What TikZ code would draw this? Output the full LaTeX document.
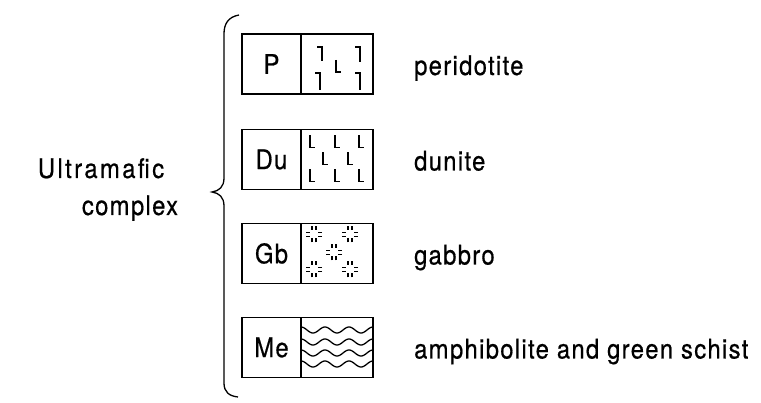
\documentclass[tikz,border=0pt]{standalone}
\usepackage{fontspec}
\setmainfont{TeX Gyre Heros}[FakeStretch=0.88, LetterSpace=5, FakeBold=0.6]
\begin{document}
\begin{tikzpicture}[x=1pt,y=-1pt,
  labbox/.style={draw, line width=1.6pt, minimum width=59pt, minimum height=60pt, inner sep=0pt, font=\fontsize{27}{30}\selectfont},
  patbox/.style={draw, line width=1.6pt, minimum width=72pt, minimum height=60pt, inner sep=0pt},
  txt/.style={font=\fontsize{27}{30}\selectfont, inner sep=0pt, anchor=base west},
  sidetxt/.style={font=\fontsize{27}{30}\selectfont, inner sep=0pt, anchor=base},
  sym/.style={line width=1.3pt},
  bracestyle/.style={line width=1.3pt}]
\useasboundingbox (0,0) rectangle (761,403);

% boxes
\node[labbox] (p)  at (271.5,64)    {P};
\node[patbox] (pp) at (337,64)      {};
\node[labbox] (du) at (271.5,159.5) {Du};
\node[patbox] (dp) at (337,159.5)   {};
\node[labbox] (gb) at (271.5,253.5) {Gb};
\node[patbox] (gp) at (337,253.5)   {};
\node[labbox] (me) at (271.5,347.5) {Me};
\node[patbox] (mp) at (337,347.5)   {};

% peridotite pattern
\begin{scope}[shift={(pp.center)}]
  \draw[sym] (-20,-17) -- (-15,-17) -- (-15,-3);
  \draw[sym] (18,-17) -- (23,-17) -- (23,-2);
  \draw[sym] (-22,9) -- (-17,9) -- (-17,26);
  \draw[sym] (18,9) -- (23,9) -- (23,26);
  \draw[sym] (-1,-4) -- (-1,8) -- (4,8);
\end{scope}

% dunite pattern
\begin{scope}[shift={(dp.center)}]
  \foreach \a/\b in {-27/-24, -2/-24, 22/-24, -14/-7, 11/-7, -27/10, -2/10, 22/10}
    \draw[sym] (\a,\b) -- (\a,\b+12) -- (\a+5,\b+12);
\end{scope}

% gabbro pattern
\begin{scope}[shift={(gp.center)}]
  \foreach \a/\b in {-23/-19, 13/-19, -3/-1, -23/16, 13/16}{
    \begin{scope}[shift={(\a,\b)}]
      \draw[sym] (-2,-8) -- (-2,-4) (2,-8) -- (2,-4);
      \draw[sym] (-2,8) -- (-2,4) (2,8) -- (2,4);
      \draw[sym] (-8,-2) -- (-4,-2) (-8,2) -- (-4,2);
      \draw[sym] (8,-2) -- (4,-2) (8,2) -- (4,2);
    \end{scope}}
\end{scope}

% metamorphic waves
\begin{scope}[shift={(mp.center)}]
  \foreach \yo in {-17.5,-5.5,5.5,16.5}
    \draw[sym] plot[domain=-36:36, samples=80, smooth] (\x, {\yo - 3*cos(15*(\x+36))});
\end{scope}

% brace
\draw[bracestyle] (239,15) .. controls (228,17) and (224,24) .. (224,34) -- (224,178)
  .. controls (224,187) and (219,191) .. (212,192)
  .. controls (219,193) and (224,197) .. (224,206) -- (224,383)
  .. controls (224,392) and (229,396) .. (238,397);

% side label
\node[sidetxt] (ult) at (101,178) {\addfontfeatures{LetterSpace=9}Ultramafic};
\node[sidetxt] (cpx) at (130,215) {complex};

% legend texts
\node[txt] (tp) at (414,75)    {peridotite};
\node[txt] (td) at (414,170.5) {dunite};
\node[txt] (tg) at (414,264.5) {gabbro};
\node[txt] (tm) at (414,358.5) {amphibolite and green schist};
\end{tikzpicture}
\end{document}
